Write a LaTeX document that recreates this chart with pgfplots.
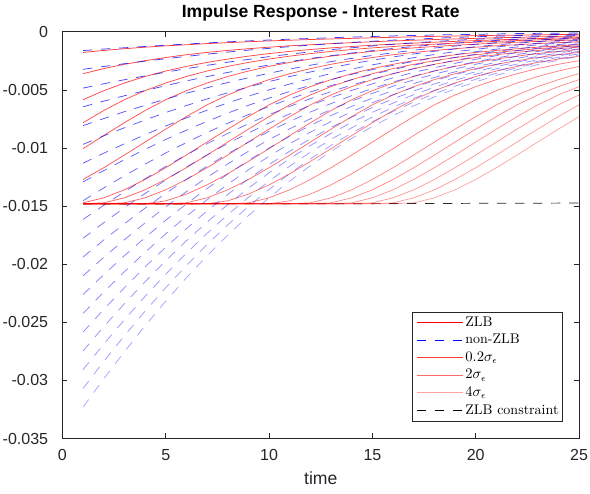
\documentclass[border=0pt]{standalone}
\usepackage{pgfplots}
\pgfplotsset{compat=1.18}
\usepackage{pgfplotstable}
\usepackage{fontspec}
\newfontfamily\arialfont{Liberation Sans}
\definecolor{zlbA}{rgb}{1,0.22,0.22}
\definecolor{zlbB}{rgb}{1,0.42,0.42}
\definecolor{zlbC}{rgb}{1,0.64,0.64}
\newcommand\lgsolid[1]{\textcolor{#1}{\rule[0.55ex]{35pt}{0.55pt}}\hspace{1.5pt}}
\newcommand\lgdash[1]{\textcolor{#1}{\rule[0.55ex]{7pt}{0.55pt}\hspace{6.5pt}\rule[0.55ex]{7pt}{0.55pt}\hspace{6.5pt}\rule[0.55ex]{7pt}{0.55pt}}\hspace{2.5pt}}
\tikzset{
  zlb/.style={draw=red, line width=0.55pt, draw opacity=#1},
  nzlb/.style={draw=blue, line width=0.55pt, dash pattern=on 7pt off 6.5pt, draw opacity=#1},
}
\begin{document}
% ZLB (red) responses, units of 1e-3
\pgfplotstableread{
t r1 r2 r3 r4 r5 r6 r7 r8 r9 r10 r11 r12 r13 r14 r15 r16 r17 r18 r19 r20
1 -1.78 -3.61 -5.85 -7.83 -10.06 -12.71 -14.72 -14.8 -14.8 -14.8 -14.8 -14.8 -14.8 -14.8 -14.8 -14.8 -14.8 -14.8 -14.8 -14.8
2 -1.61 -3.17 -5.07 -6.78 -8.93 -11.70 -14.29 -14.72 -14.8 -14.8 -14.8 -14.8 -14.8 -14.8 -14.8 -14.8 -14.8 -14.8 -14.8 -14.8
3 -1.46 -2.80 -4.41 -5.85 -7.83 -10.61 -13.60 -14.29 -14.72 -14.8 -14.8 -14.8 -14.8 -14.8 -14.8 -14.8 -14.8 -14.8 -14.8 -14.8
4 -1.33 -2.49 -3.85 -5.07 -6.78 -9.49 -12.71 -13.60 -14.29 -14.8 -14.8 -14.8 -14.8 -14.8 -14.8 -14.8 -14.8 -14.8 -14.8 -14.8
5 -1.21 -2.22 -3.38 -4.41 -5.85 -8.38 -11.70 -12.71 -13.60 -14.55 -14.8 -14.8 -14.8 -14.8 -14.8 -14.8 -14.8 -14.8 -14.8 -14.8
6 -1.12 -1.98 -2.98 -3.85 -5.07 -7.30 -10.61 -11.70 -12.71 -13.97 -14.72 -14.8 -14.8 -14.8 -14.8 -14.8 -14.8 -14.8 -14.8 -14.8
7 -1.02 -1.78 -2.64 -3.38 -4.41 -6.29 -9.49 -10.61 -11.70 -13.18 -14.29 -14.8 -14.8 -14.8 -14.8 -14.8 -14.8 -14.8 -14.8 -14.8
8 -0.94 -1.61 -2.35 -2.98 -3.85 -5.44 -8.38 -9.49 -10.61 -12.22 -13.60 -14.55 -14.8 -14.8 -14.8 -14.8 -14.8 -14.8 -14.8 -14.8
9 -0.86 -1.46 -2.10 -2.64 -3.38 -4.72 -7.30 -8.38 -9.49 -11.16 -12.71 -13.97 -14.72 -14.8 -14.8 -14.8 -14.8 -14.8 -14.8 -14.8
10 -0.79 -1.33 -1.88 -2.35 -2.98 -4.12 -6.29 -7.30 -8.38 -10.06 -11.70 -13.18 -14.29 -14.8 -14.8 -14.8 -14.8 -14.8 -14.8 -14.8
11 -0.73 -1.21 -1.69 -2.10 -2.64 -3.61 -5.44 -6.29 -7.30 -8.93 -10.61 -12.22 -13.60 -14.55 -14.8 -14.8 -14.8 -14.8 -14.8 -14.8
12 -0.67 -1.12 -1.53 -1.88 -2.35 -3.17 -4.72 -5.44 -6.29 -7.83 -9.49 -11.16 -12.71 -13.97 -14.72 -14.8 -14.8 -14.8 -14.8 -14.8
13 -0.62 -1.02 -1.39 -1.69 -2.10 -2.80 -4.12 -4.72 -5.44 -6.78 -8.38 -10.06 -11.70 -13.18 -14.29 -14.72 -14.8 -14.8 -14.8 -14.8
14 -0.57 -0.94 -1.27 -1.53 -1.88 -2.49 -3.61 -4.12 -4.72 -5.85 -7.30 -8.93 -10.61 -12.22 -13.60 -14.29 -14.72 -14.8 -14.8 -14.8
15 -0.52 -0.86 -1.16 -1.39 -1.69 -2.22 -3.17 -3.61 -4.12 -5.07 -6.29 -7.83 -9.49 -11.16 -12.71 -13.60 -14.29 -14.72 -14.8 -14.8
16 -0.48 -0.79 -1.07 -1.27 -1.53 -1.98 -2.80 -3.17 -3.61 -4.41 -5.44 -6.78 -8.38 -10.06 -11.70 -12.71 -13.60 -14.29 -14.72 -14.8
17 -0.44 -0.73 -0.98 -1.16 -1.39 -1.78 -2.49 -2.80 -3.17 -3.85 -4.72 -5.85 -7.30 -8.93 -10.61 -11.70 -12.71 -13.60 -14.29 -14.72
18 -0.40 -0.67 -0.90 -1.07 -1.27 -1.61 -2.22 -2.49 -2.80 -3.38 -4.12 -5.07 -6.29 -7.83 -9.49 -10.61 -11.70 -12.71 -13.60 -14.29
19 -0.37 -0.62 -0.83 -0.98 -1.16 -1.46 -1.98 -2.22 -2.49 -2.98 -3.61 -4.41 -5.44 -6.78 -8.38 -9.49 -10.61 -11.70 -12.71 -13.60
20 -0.34 -0.57 -0.76 -0.90 -1.07 -1.33 -1.78 -1.98 -2.22 -2.64 -3.17 -3.85 -4.72 -5.85 -7.30 -8.38 -9.49 -10.61 -11.70 -12.71
21 -0.31 -0.52 -0.70 -0.83 -0.98 -1.21 -1.61 -1.78 -1.98 -2.35 -2.80 -3.38 -4.12 -5.07 -6.29 -7.30 -8.38 -9.49 -10.61 -11.70
22 -0.29 -0.48 -0.64 -0.76 -0.90 -1.12 -1.46 -1.61 -1.78 -2.10 -2.49 -2.98 -3.61 -4.41 -5.44 -6.29 -7.30 -8.38 -9.49 -10.61
23 -0.26 -0.44 -0.59 -0.70 -0.83 -1.02 -1.33 -1.46 -1.61 -1.88 -2.22 -2.64 -3.17 -3.85 -4.72 -5.44 -6.29 -7.30 -8.38 -9.49
24 -0.24 -0.40 -0.54 -0.64 -0.76 -0.94 -1.21 -1.33 -1.46 -1.69 -1.98 -2.35 -2.80 -3.38 -4.12 -4.72 -5.44 -6.29 -7.30 -8.38
25 -0.22 -0.37 -0.50 -0.59 -0.70 -0.86 -1.12 -1.21 -1.33 -1.53 -1.78 -2.10 -2.49 -2.98 -3.61 -4.12 -4.72 -5.44 -6.29 -7.30
}\redtab
% non-ZLB (blue) responses, units of 1e-3
\pgfplotstableread{
t b1 b2 b3 b4 b5 b6 b7 b8 b9 b10 b11 b12 b13 b14 b15 b16 b17 b18 b19 b20
1 -1.62 -3.23 -4.85 -6.46 -8.08 -9.69 -11.31 -12.92 -14.54 -16.15 -17.77 -19.38 -21.00 -22.61 -24.23 -25.84 -27.46 -29.07 -30.69 -32.30
2 -1.49 -2.99 -4.48 -5.97 -7.47 -8.96 -10.45 -11.95 -13.44 -14.93 -16.43 -17.92 -19.41 -20.90 -22.40 -23.89 -25.38 -26.88 -28.37 -29.86
3 -1.38 -2.75 -4.13 -5.51 -6.88 -8.26 -9.64 -11.01 -12.39 -13.77 -15.14 -16.52 -17.90 -19.27 -20.65 -22.03 -23.40 -24.78 -26.16 -27.53
4 -1.27 -2.53 -3.80 -5.06 -6.33 -7.59 -8.86 -10.12 -11.39 -12.65 -13.92 -15.18 -16.45 -17.71 -18.98 -20.24 -21.51 -22.77 -24.04 -25.30
5 -1.16 -2.32 -3.48 -4.64 -5.79 -6.95 -8.11 -9.27 -10.43 -11.59 -12.75 -13.91 -15.07 -16.22 -17.38 -18.54 -19.70 -20.86 -22.02 -23.18
6 -1.06 -2.12 -3.18 -4.23 -5.29 -6.35 -7.41 -8.47 -9.53 -10.59 -11.64 -12.70 -13.76 -14.82 -15.88 -16.94 -17.99 -19.05 -20.11 -21.17
7 -0.96 -1.93 -2.89 -3.86 -4.82 -5.78 -6.75 -7.71 -8.67 -9.64 -10.60 -11.57 -12.53 -13.49 -14.46 -15.42 -16.38 -17.35 -18.31 -19.28
8 -0.87 -1.75 -2.62 -3.50 -4.37 -5.25 -6.12 -7.00 -7.87 -8.75 -9.62 -10.50 -11.37 -12.25 -13.12 -14.00 -14.87 -15.75 -16.62 -17.50
9 -0.79 -1.58 -2.38 -3.17 -3.96 -4.75 -5.54 -6.33 -7.13 -7.92 -8.71 -9.50 -10.29 -11.08 -11.88 -12.67 -13.46 -14.25 -15.04 -15.83
10 -0.71 -1.43 -2.14 -2.86 -3.57 -4.29 -5.00 -5.71 -6.43 -7.14 -7.86 -8.57 -9.28 -10.00 -10.71 -11.43 -12.14 -12.86 -13.57 -14.28
11 -0.64 -1.28 -1.93 -2.57 -3.21 -3.85 -4.50 -5.14 -5.78 -6.42 -7.07 -7.71 -8.35 -8.99 -9.63 -10.28 -10.92 -11.56 -12.20 -12.85
12 -0.58 -1.15 -1.73 -2.30 -2.88 -3.46 -4.03 -4.61 -5.18 -5.76 -6.33 -6.91 -7.49 -8.06 -8.64 -9.21 -9.79 -10.37 -10.94 -11.52
13 -0.51 -1.03 -1.54 -2.06 -2.57 -3.09 -3.60 -4.12 -4.63 -5.15 -5.66 -6.18 -6.69 -7.21 -7.72 -8.24 -8.75 -9.26 -9.78 -10.29
14 -0.46 -0.92 -1.38 -1.83 -2.29 -2.75 -3.21 -3.67 -4.13 -4.59 -5.05 -5.50 -5.96 -6.42 -6.88 -7.34 -7.80 -8.26 -8.72 -9.17
15 -0.41 -0.82 -1.22 -1.63 -2.04 -2.45 -2.85 -3.26 -3.67 -4.08 -4.48 -4.89 -5.30 -5.71 -6.11 -6.52 -6.93 -7.34 -7.74 -8.15
16 -0.36 -0.72 -1.08 -1.44 -1.81 -2.17 -2.53 -2.89 -3.25 -3.61 -3.97 -4.33 -4.69 -5.05 -5.42 -5.78 -6.14 -6.50 -6.86 -7.22
17 -0.32 -0.64 -0.96 -1.27 -1.59 -1.91 -2.23 -2.55 -2.87 -3.19 -3.50 -3.82 -4.14 -4.46 -4.78 -5.10 -5.42 -5.73 -6.05 -6.37
18 -0.28 -0.56 -0.84 -1.12 -1.40 -1.68 -1.96 -2.24 -2.52 -2.81 -3.09 -3.37 -3.65 -3.93 -4.21 -4.49 -4.77 -5.05 -5.33 -5.61
19 -0.25 -0.49 -0.74 -0.98 -1.23 -1.48 -1.72 -1.97 -2.21 -2.46 -2.71 -2.95 -3.20 -3.45 -3.69 -3.94 -4.18 -4.43 -4.68 -4.92
20 -0.22 -0.43 -0.65 -0.86 -1.08 -1.29 -1.51 -1.72 -1.94 -2.15 -2.37 -2.58 -2.80 -3.01 -3.23 -3.44 -3.66 -3.88 -4.09 -4.31
21 -0.19 -0.38 -0.56 -0.75 -0.94 -1.13 -1.31 -1.50 -1.69 -1.88 -2.06 -2.25 -2.44 -2.63 -2.82 -3.00 -3.19 -3.38 -3.57 -3.75
22 -0.16 -0.33 -0.49 -0.65 -0.82 -0.98 -1.14 -1.31 -1.47 -1.63 -1.80 -1.96 -2.12 -2.29 -2.45 -2.61 -2.78 -2.94 -3.10 -3.27
23 -0.14 -0.28 -0.42 -0.57 -0.71 -0.85 -0.99 -1.13 -1.27 -1.42 -1.56 -1.70 -1.84 -1.98 -2.12 -2.26 -2.41 -2.55 -2.69 -2.83
24 -0.12 -0.24 -0.37 -0.49 -0.61 -0.73 -0.86 -0.98 -1.10 -1.22 -1.35 -1.47 -1.59 -1.71 -1.83 -1.96 -2.08 -2.20 -2.32 -2.45
25 -0.11 -0.21 -0.32 -0.42 -0.53 -0.63 -0.74 -0.84 -0.95 -1.05 -1.16 -1.26 -1.37 -1.47 -1.58 -1.68 -1.79 -1.90 -2.00 -2.11
}\bluetab
\begin{tikzpicture}
\begin{axis}[
  at={(0,0)}, anchor=south west, scale only axis,
  width=387.5pt, height=305.1pt,
  xmin=0, xmax=25, ymin=-35, ymax=0,
  xtick={0,5,10,15,20,25}, xticklabels={0,5,10,15,20,25},
  ytick={-35,-30,-25,-20,-15,-10,-5,0},
  yticklabels={-0.035,-0.03,-0.025,-0.02,-0.015,-0.01,-0.005,0},
  tick align=inside, major tick length=3.8pt,
  axis line style={black!85, line width=0.5pt},
  tick style={black!85, line width=0.5pt},
  ticklabel style={font=\arialfont\fontsize{12}{14}\selectfont, text=black!85},
  xticklabel style={anchor=base, yshift=-16.8pt},
  yticklabel style={xshift=-7.2pt},
  xlabel={time},
  xlabel style={at={(axis description cs:0.5,0)}, anchor=base, yshift=-34.5pt, font=\arialfont\fontsize{13.2}{15}\selectfont, text=black!85},
  title={Impulse Response - Interest Rate},
  title style={at={(axis description cs:0.5,1)}, anchor=base, yshift=5pt, font=\arialfont\bfseries\fontsize{13.2}{15}\selectfont},
  legend style={at={(axis description cs:1,0)}, anchor=south east, xshift=-12.2pt, yshift=13pt,
    font=\fontsize{10.5}{12.6}\selectfont, draw=black!85, line width=0.5pt,
    inner xsep=1pt, inner ysep=1.5pt, row sep=0.6pt, cells={anchor=west}},
  legend image code/.code={},
]
\addlegendimage{empty legend}
\addlegendentry{\lgsolid{red}ZLB}
\addlegendimage{empty legend}
\addlegendentry{\lgdash{blue}non-ZLB}
\addlegendimage{empty legend}
\addlegendentry{\lgsolid{zlbA}$0.2\sigma_\epsilon$}
\addlegendimage{empty legend}
\addlegendentry{\lgsolid{zlbB}$2\sigma_\epsilon$}
\addlegendimage{empty legend}
\addlegendentry{\lgsolid{zlbC}$4\sigma_\epsilon$}
\addlegendimage{empty legend}
\addlegendentry{\lgdash{black}ZLB constraint}

\addplot[draw=black!85, line width=0.55pt, dash pattern=on 7pt off 6.5pt, forget plot] coordinates {(1,-14.82) (13,-14.8) (25,-14.74)};

\addplot[zlb=0.780, forget plot] table[x=t, y=r1] {\redtab};
\addplot[zlb=0.758, forget plot] table[x=t, y=r2] {\redtab};
\addplot[zlb=0.736, forget plot] table[x=t, y=r3] {\redtab};
\addplot[zlb=0.714, forget plot] table[x=t, y=r4] {\redtab};
\addplot[zlb=0.692, forget plot] table[x=t, y=r5] {\redtab};
\addplot[zlb=0.670, forget plot] table[x=t, y=r6] {\redtab};
\addplot[zlb=0.648, forget plot] table[x=t, y=r7] {\redtab};
\addplot[zlb=0.626, forget plot] table[x=t, y=r8] {\redtab};
\addplot[zlb=0.604, forget plot] table[x=t, y=r9] {\redtab};
\addplot[zlb=0.582, forget plot] table[x=t, y=r10] {\redtab};
\addplot[zlb=0.560, forget plot] table[x=t, y=r11] {\redtab};
\addplot[zlb=0.538, forget plot] table[x=t, y=r12] {\redtab};
\addplot[zlb=0.516, forget plot] table[x=t, y=r13] {\redtab};
\addplot[zlb=0.494, forget plot] table[x=t, y=r14] {\redtab};
\addplot[zlb=0.472, forget plot] table[x=t, y=r15] {\redtab};
\addplot[zlb=0.450, forget plot] table[x=t, y=r16] {\redtab};
\addplot[zlb=0.428, forget plot] table[x=t, y=r17] {\redtab};
\addplot[zlb=0.406, forget plot] table[x=t, y=r18] {\redtab};
\addplot[zlb=0.384, forget plot] table[x=t, y=r19] {\redtab};
\addplot[zlb=0.362, forget plot] table[x=t, y=r20] {\redtab};

\addplot[nzlb=0.780, forget plot] table[x=t, y=b1] {\bluetab};
\addplot[nzlb=0.758, forget plot] table[x=t, y=b2] {\bluetab};
\addplot[nzlb=0.736, forget plot] table[x=t, y=b3] {\bluetab};
\addplot[nzlb=0.714, forget plot] table[x=t, y=b4] {\bluetab};
\addplot[nzlb=0.692, forget plot] table[x=t, y=b5] {\bluetab};
\addplot[nzlb=0.670, forget plot] table[x=t, y=b6] {\bluetab};
\addplot[nzlb=0.648, forget plot] table[x=t, y=b7] {\bluetab};
\addplot[nzlb=0.626, forget plot] table[x=t, y=b8] {\bluetab};
\addplot[nzlb=0.604, forget plot] table[x=t, y=b9] {\bluetab};
\addplot[nzlb=0.582, forget plot] table[x=t, y=b10] {\bluetab};
\addplot[nzlb=0.560, forget plot] table[x=t, y=b11] {\bluetab};
\addplot[nzlb=0.538, forget plot] table[x=t, y=b12] {\bluetab};
\addplot[nzlb=0.516, forget plot] table[x=t, y=b13] {\bluetab};
\addplot[nzlb=0.494, forget plot] table[x=t, y=b14] {\bluetab};
\addplot[nzlb=0.472, forget plot] table[x=t, y=b15] {\bluetab};
\addplot[nzlb=0.450, forget plot] table[x=t, y=b16] {\bluetab};
\addplot[nzlb=0.428, forget plot] table[x=t, y=b17] {\bluetab};
\addplot[nzlb=0.406, forget plot] table[x=t, y=b18] {\bluetab};
\addplot[nzlb=0.384, forget plot] table[x=t, y=b19] {\bluetab};
\addplot[nzlb=0.362, forget plot] table[x=t, y=b20] {\bluetab};
\end{axis}
\pgfresetboundingbox
\path (-46.8pt,-40.9pt) rectangle (395.7pt,328.9pt);
\end{tikzpicture}
\end{document}
